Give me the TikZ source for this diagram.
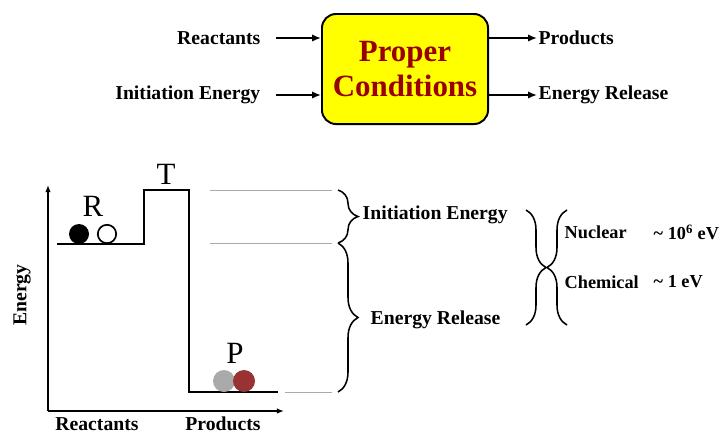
\documentclass[tikz,border=0pt]{standalone}
\usepackage{fontspec}
\setmainfont{Liberation Serif}
\usepackage{tikz}
\usetikzlibrary{arrows.meta,decorations.pathreplacing}
\usepackage{xcolor}
\definecolor{myyellow}{RGB}{255,255,0}
\definecolor{mydarkred}{RGB}{153,0,0}
\definecolor{myball}{RGB}{153,51,51}
\definecolor{mygray}{RGB}{170,170,170}

\begin{document}
\begin{tikzpicture}[x=0.025cm, y=-0.025cm,
  lbl/.style={font=\bfseries\fontsize{14}{16}\selectfont, inner sep=1pt},
  sml/.style={font=\bfseries\fontsize{13}{15}\selectfont, inner sep=1pt},
  letter/.style={font=\fontsize{22}{24}\selectfont, inner sep=0pt},
  condbox/.style={draw, line width=1.4pt, fill=myyellow, rounded corners=0.35cm,
    minimum width=4.15cm, minimum height=2.75cm, align=center,
    text=mydarkred, font=\bfseries\fontsize{22}{25}\selectfont},
  flow/.style={line width=1.2pt, -{Latex[length=2.2mm,width=1.8mm]}},
  axis/.style={line width=1pt, -{Latex[length=1.8mm,width=1.4mm]}},
  level/.style={line width=1.5pt},
  guide/.style={draw=mygray, line width=0.5pt},
  brc/.style={decorate, decoration={brace, amplitude=0.5cm}, line width=1.1pt},
  ball/.style={circle, minimum size=0.5cm, inner sep=0pt}]
  \useasboundingbox (0,0) rectangle (721,435);

  % Conditions box and its inputs / outputs
  \node[condbox] (cond) at (405,69) {Proper\\Conditions};
  \node[lbl, anchor=east] (reac) at (262,38) {Reactants};
  \node[lbl, anchor=east] (init) at (262,95) {Initiation Energy};
  \node[lbl, anchor=west] (prod) at (537,38) {Products};
  \node[lbl, anchor=west] (rel) at (537,95) {Energy Release};

  \draw[flow, shorten <=0.35cm] (reac.east) -- (reac.east -| cond.west);
  \draw[flow, shorten <=0.35cm] (init.east) -- (init.east -| cond.west);
  \draw[flow] (cond.east |- prod.west) -- (prod.west);
  \draw[flow] (cond.east |- rel.west) -- (rel.west);

  % Axes
  \coordinate (origin) at (48,411);
  \coordinate (ytop) at (48,185);
  \coordinate (xend) at (284,411);
  \draw[axis] (origin) -- (ytop);
  \draw[axis] (origin) -- (xend);
  \node[lbl, rotate=90] (energy) at (22,295) {Energy};
  \node[lbl, inner sep=0pt] (xreac) at (97,424) {Reactants};
  \node[lbl, inner sep=0pt] (xprod) at (223,424) {Products};

  % Energy levels
  \draw[level] (57,244) -- (144,244) -- (144,190) -- (189,190) -- (189,392) -- (278,392);
  \node[letter] (rlab) at (93,206) {R};
  \node[letter] (tlab) at (166,174) {T};
  \node[letter] (plab) at (235,353) {P};
  \node[ball, fill=black] (ra) at (79,234) {};
  \node[ball, draw, line width=1.2pt, minimum size=0.46cm] (rb) at (107,234) {};
  \node[ball, fill=mygray, minimum size=0.55cm] (pa) at (224,381) {};
  \node[ball, fill=myball, minimum size=0.55cm] (pb) at (244,381) {};

  % Guide lines
  \coordinate (gtop) at (332,190);
  \coordinate (gmid) at (332,243);
  \coordinate (gbot) at (332,392);
  \draw[guide] (210,190) -- (gtop);
  \draw[guide] (210,243) -- (gmid);
  \draw[guide] (285,392) -- (gbot);

  % Braces
  \coordinate (b1) at (338,190);
  \coordinate (b2) at (338,243);
  \coordinate (b3) at (338,392);
  \draw[brc] (b1) -- (b2);
  \draw[brc] (b2) -- (b3);
  \node[lbl, anchor=west] (ie) at (361,215) {Initiation Energy};
  \node[lbl, anchor=west] (er) at (369,320) {Energy Release};

  \coordinate (c1) at (526,210);
  \coordinate (c2) at (526,325);
  \coordinate (d1) at (567,210);
  \coordinate (d2) at (567,325);
  \draw[brc] (c1) -- (c2);
  \draw[brc] (d2) -- (d1);
  \node[sml, anchor=west] (nuc) at (563,232) {Nuclear};
  \node[sml, anchor=west] (nucv) at (652,232) {\textasciitilde{} 10\textsuperscript{6} eV};
  \node[sml, anchor=west] (chem) at (563,282) {Chemical};
  \node[sml, anchor=west] (chemv) at (652,282) {\textasciitilde{} 1 eV};
\end{tikzpicture}
\end{document}
